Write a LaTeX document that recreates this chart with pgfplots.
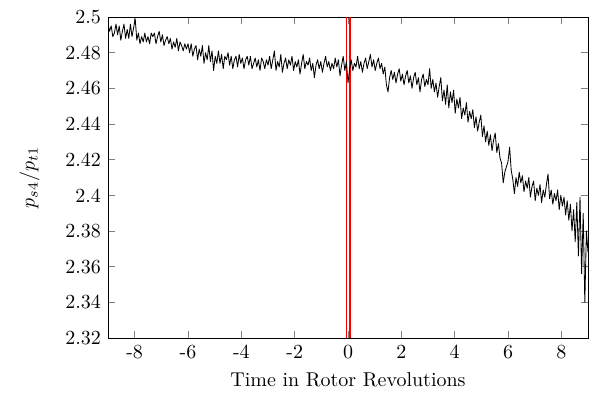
\documentclass[border=0pt]{standalone}
\usepackage{pgfplots}
\pgfplotsset{compat=1.18}
\begin{document}
\begin{tikzpicture}
\begin{axis}[
  scale only axis,
  width=240pt, height=160.5pt,
  xmin=-9, xmax=9, ymin=2.32, ymax=2.5,
  xtick={-8,-6,-4,-2,0,2,4,6,8},
  xticklabels={-8,-6,-4,-2,0,2,4,6,8},
  ytick={2.32,2.34,2.36,2.38,2.4,2.42,2.44,2.46,2.48,2.5},
  yticklabels={2.32,2.34,2.36,2.38,2.4,2.42,2.44,2.46,2.48,2.5},
  tick align=inside,
  major tick length=3.5pt,
  xlabel={Time in Rotor Revolutions},
  ylabel={$p_{s4}/p_{t1}$},
  ylabel shift=6pt,
  every axis plot/.append style={line join=round},
]
\addplot[red, line width=0.9pt] coordinates {(-0.06,2.32) (-0.06,2.5)};
\addplot[red, line width=0.9pt] coordinates {(0.06,2.32) (0.06,2.5)};
\addplot[black, line width=0.42pt] table {
x y
-9.00 2.496
-8.94 2.492
-8.88 2.495
-8.82 2.489
-8.76 2.491
-8.70 2.496
-8.64 2.490
-8.58 2.495
-8.52 2.487
-8.46 2.492
-8.40 2.496
-8.34 2.488
-8.28 2.493
-8.22 2.488
-8.16 2.496
-8.10 2.489
-8.04 2.494
-7.98 2.499
-7.92 2.487
-7.86 2.491
-7.80 2.485
-7.74 2.489
-7.68 2.486
-7.62 2.491
-7.56 2.486
-7.50 2.489
-7.44 2.485
-7.38 2.491
-7.32 2.489
-7.26 2.491
-7.20 2.485
-7.14 2.489
-7.08 2.492
-7.02 2.486
-6.96 2.490
-6.90 2.484
-6.84 2.487
-6.78 2.489
-6.72 2.485
-6.66 2.488
-6.60 2.482
-6.54 2.486
-6.48 2.483
-6.42 2.488
-6.36 2.481
-6.30 2.486
-6.24 2.484
-6.18 2.481
-6.12 2.485
-6.06 2.482
-6.00 2.485
-5.94 2.480
-5.88 2.485
-5.82 2.478
-5.76 2.482
-5.70 2.484
-5.64 2.476
-5.58 2.482
-5.52 2.478
-5.46 2.484
-5.40 2.474
-5.34 2.480
-5.28 2.476
-5.22 2.484
-5.16 2.475
-5.10 2.481
-5.04 2.470
-4.98 2.478
-4.92 2.474
-4.86 2.481
-4.80 2.474
-4.74 2.479
-4.68 2.471
-4.62 2.478
-4.56 2.476
-4.50 2.480
-4.44 2.473
-4.38 2.478
-4.32 2.471
-4.26 2.476
-4.20 2.478
-4.14 2.472
-4.08 2.479
-4.02 2.474
-3.96 2.477
-3.90 2.471
-3.84 2.476
-3.78 2.478
-3.72 2.473
-3.66 2.478
-3.60 2.471
-3.54 2.474
-3.48 2.477
-3.42 2.472
-3.36 2.476
-3.30 2.470
-3.24 2.477
-3.18 2.475
-3.12 2.471
-3.06 2.476
-3.00 2.473
-2.94 2.478
-2.88 2.471
-2.82 2.476
-2.76 2.481
-2.70 2.470
-2.64 2.475
-2.58 2.472
-2.52 2.479
-2.46 2.469
-2.40 2.474
-2.34 2.477
-2.28 2.471
-2.22 2.476
-2.16 2.473
-2.10 2.478
-2.04 2.470
-1.98 2.475
-1.92 2.472
-1.86 2.476
-1.80 2.468
-1.74 2.474
-1.68 2.479
-1.62 2.471
-1.56 2.475
-1.50 2.473
-1.44 2.477
-1.38 2.470
-1.32 2.474
-1.26 2.466
-1.20 2.473
-1.14 2.476
-1.08 2.471
-1.02 2.475
-0.96 2.469
-0.90 2.474
-0.84 2.478
-0.78 2.472
-0.72 2.475
-0.66 2.470
-0.60 2.474
-0.54 2.471
-0.48 2.477
-0.42 2.472
-0.36 2.476
-0.30 2.467
-0.24 2.473
-0.18 2.478
-0.12 2.470
-0.06 2.475
0.00 2.463
0.06 2.471
0.12 2.476
0.18 2.470
0.24 2.474
0.30 2.472
0.36 2.478
0.42 2.471
0.48 2.475
0.54 2.469
0.60 2.474
0.66 2.477
0.72 2.471
0.78 2.475
0.84 2.479
0.90 2.472
0.96 2.476
1.02 2.470
1.08 2.474
1.14 2.477
1.20 2.471
1.26 2.474
1.32 2.468
1.38 2.472
1.44 2.462
1.50 2.458
1.56 2.466
1.62 2.470
1.68 2.465
1.74 2.469
1.80 2.463
1.86 2.468
1.92 2.471
1.98 2.464
2.04 2.468
2.10 2.462
2.16 2.467
2.22 2.470
2.28 2.463
2.34 2.467
2.40 2.460
2.46 2.466
2.52 2.469
2.58 2.462
2.64 2.466
2.70 2.458
2.76 2.465
2.82 2.468
2.88 2.461
2.94 2.465
3.00 2.462
3.06 2.471
3.12 2.460
3.18 2.465
3.24 2.458
3.30 2.463
3.36 2.455
3.42 2.461
3.48 2.466
3.54 2.453
3.60 2.459
3.66 2.451
3.72 2.462
3.78 2.449
3.84 2.458
3.90 2.452
3.96 2.459
4.02 2.446
4.08 2.454
4.14 2.449
4.20 2.455
4.26 2.443
4.32 2.449
4.38 2.445
4.44 2.452
4.50 2.441
4.56 2.447
4.62 2.443
4.68 2.448
4.74 2.438
4.80 2.444
4.86 2.436
4.92 2.441
4.98 2.445
5.04 2.433
5.10 2.439
5.16 2.430
5.22 2.436
5.28 2.428
5.34 2.434
5.40 2.425
5.46 2.431
5.52 2.435
5.58 2.424
5.64 2.429
5.70 2.421
5.76 2.418
5.82 2.407
5.88 2.413
5.94 2.416
6.00 2.419
6.06 2.427
6.12 2.414
6.18 2.409
6.24 2.401
6.30 2.410
6.36 2.405
6.42 2.413
6.48 2.407
6.54 2.411
6.60 2.402
6.66 2.408
6.72 2.404
6.78 2.410
6.84 2.399
6.90 2.405
6.96 2.408
7.02 2.397
7.08 2.404
7.14 2.400
7.20 2.406
7.26 2.396
7.32 2.403
7.38 2.399
7.44 2.406
7.50 2.412
7.56 2.398
7.62 2.403
7.68 2.395
7.74 2.401
7.80 2.397
7.86 2.403
7.92 2.392
7.98 2.400
8.04 2.394
8.10 2.399
8.16 2.389
8.22 2.397
8.28 2.386
8.34 2.395
8.40 2.380
8.46 2.392
8.52 2.374
8.58 2.396
8.64 2.366
8.70 2.399
8.76 2.356
8.82 2.390
8.88 2.340
8.94 2.380
9.00 2.368
};
\end{axis}
\path (current axis.north east) ++(3.5pt,8.5pt) coordinate (ne);
\path (current axis.south west) ++(-54pt,-34.5pt) coordinate (sw);
\path (ne) -- (sw);
\end{tikzpicture}
\end{document}
